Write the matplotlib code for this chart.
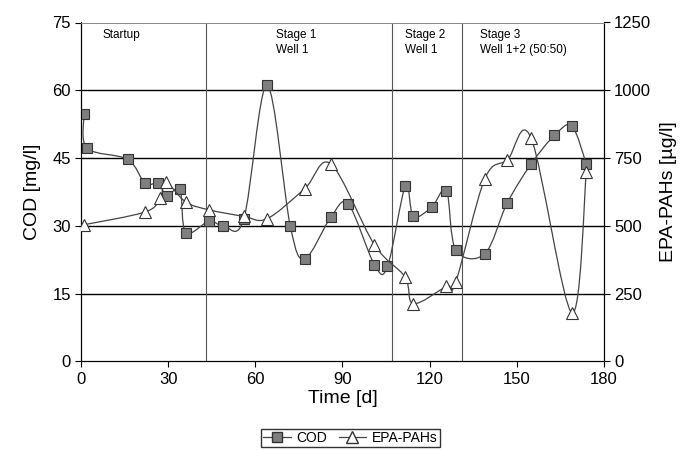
import numpy as np
import matplotlib
matplotlib.use("Agg")
import matplotlib.pyplot as plt
from matplotlib.path import Path
from matplotlib.patches import PathPatch
from matplotlib.lines import Line2D

plt.rcParams['font.family'] = ['Liberation Sans', 'DejaVu Sans']

# COD data (left axis)
cod_t = [1, 2, 16, 22, 26.6, 29.5, 34, 36, 44, 49, 56, 64, 72, 77, 86, 92,
         101, 105.5, 111.7, 114.4, 120.7, 125.8, 129, 139, 146.7, 155, 163, 169, 174]
cod_v = [54.7, 47.2, 44.7, 39.4, 39.4, 36.6, 38.1, 28.5, 31.0, 30.0, 31.5, 61.1, 30.0,
         22.7, 31.9, 34.8, 21.4, 21.0, 38.9, 32.1, 34.1, 37.8, 24.7, 23.8, 35.0,
         43.7, 50.0, 52.1, 43.7]

# EPA-PAHs data (right axis)
pah_t = [1, 22, 27.2, 29.1, 36, 44, 56, 64, 77, 86, 101, 111.5, 114.4, 125.8,
         129, 139, 146.8, 155, 169, 174]
pah_v = [504, 551, 602, 661, 588, 559, 535, 526, 637, 728, 430, 312, 213, 277,
         292, 673, 743, 823, 179, 700]

stage_bounds = [43, 107, 131]
stage_labels = ["Startup", "Stage 1\nWell 1", "Stage 2\nWell 1", "Stage 3\nWell 1+2 (50:50)"]
label_x = [7.5, 67, 111.5, 137.5]


def smooth_path(x, y):
    # Excel style smoothed line: cubic bezier through the points
    p = np.column_stack([x, y]).astype(float)
    n = len(p)
    verts = [p[0]]
    codes = [Path.MOVETO]
    for i in range(n - 1):
        p0 = p[i - 1] if i > 0 else p[i]
        p1 = p[i]
        p2 = p[i + 1]
        p3 = p[i + 2] if i + 2 < n else p[i + 1]
        c1 = p1 + (p2 - p0) / 6.0
        c2 = p2 - (p3 - p1) / 6.0
        verts += [c1, c2, p2]
        codes += [Path.CURVE4] * 3
    return Path(verts, codes)


fig = plt.figure(figsize=(6.94, 4.5), dpi=100)
ax = fig.add_axes([0.117, 0.197, 0.753, 0.753])
ax2 = ax.twinx()

ax.set_xlim(0, 180)
ax.set_ylim(0, 75)
ax2.set_ylim(0, 1250)
ax.set_xticks(np.arange(0, 181, 30))
ax.set_yticks(np.arange(0, 76, 15))
ax2.set_yticks(np.arange(0, 1251, 250))

for yy in [15, 30, 45, 60]:
    ax.axhline(yy, color="black", lw=1.0, zorder=1)
for xb in stage_bounds:
    ax.axvline(xb, color="#555555", lw=0.8, zorder=1)

ax.add_patch(PathPatch(smooth_path(cod_t, cod_v), fc="none", ec="#444444", lw=0.9, zorder=3))
ax.plot(cod_t, cod_v, ls="none", marker="s", ms=7, mfc="#7f7f7f", mec="#333333",
        mew=0.8, zorder=4)
ax2.add_patch(PathPatch(smooth_path(pah_t, pah_v), fc="none", ec="#444444", lw=0.9, zorder=3))
ax2.plot(pah_t, pah_v, ls="none", marker="^", ms=8, mfc="white", mec="#333333",
         mew=0.8, zorder=4)

for lx, lab in zip(label_x, stage_labels):
    ax.text(lx, 73.5, lab, fontsize=8.5, va="top", ha="left", linespacing=1.3)

for a in (ax, ax2):
    a.spines["top"].set_color("#888888")
    a.spines["top"].set_linewidth(0.6)
    a.tick_params(labelsize=12, direction="out", length=4)
ax.set_xlabel("Time [d]", fontsize=14, labelpad=2)
ax.set_ylabel("COD [mg/l]", fontsize=14, labelpad=8)
ax2.set_ylabel("EPA-PAHs [µg/l]", fontsize=14, labelpad=6)

handles = [
    Line2D([], [], color="#444444", lw=0.9, marker="s", ms=7, mfc="#7f7f7f", mec="#333333"),
    Line2D([], [], color="#444444", lw=0.9, marker="^", ms=8, mfc="white", mec="#333333"),
]
fig.legend(handles, ["COD", "EPA-PAHs"], loc="center", bbox_to_anchor=(0.505, 0.027),
           ncol=2, fontsize=10, frameon=True, fancybox=False, edgecolor="black",
           handlelength=2.0, handletextpad=0.4, columnspacing=0.8, borderpad=0.15,
           borderaxespad=0)

fig.savefig("out.png", dpi=100)
